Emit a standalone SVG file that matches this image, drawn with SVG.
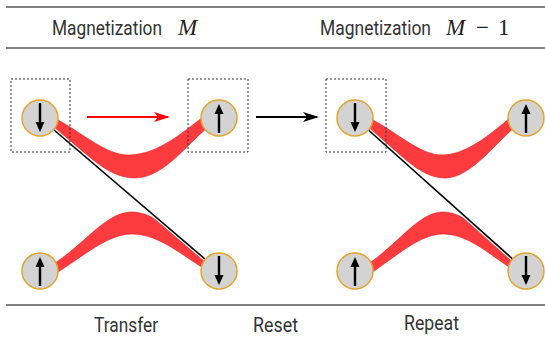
<svg xmlns="http://www.w3.org/2000/svg" width="545" height="337" viewBox="0 0 545 337">
  <defs>
    <style>
      .rule { stroke: #555; stroke-width: 1.5; fill: none; }
      .label { font-family: Roboto, "Noto Sans", sans-serif; font-size: 20px; fill: #333; }
      .math { font-family: "Liberation Serif", "DejaVu Serif", serif; font-style: italic; font-size: 23px; fill: #222; }
      .mathup { font-family: "Liberation Serif", "DejaVu Serif", serif; font-size: 23px; fill: #222; }
      .band { fill: #fc3b3f; stroke: #f52024; stroke-width: 0.6; }
      .site { fill: #d3d3d3; stroke: #e2a52e; stroke-width: 1.5; }
      .spin { stroke: #000; stroke-width: 2.4; fill: none; }
      .head { fill: #000; }
      .box { fill: none; stroke: #333; stroke-width: 1; stroke-dasharray: 2 2; }
      .link { stroke: #000; stroke-width: 1.6; fill: none; }
      .casing { stroke: #fff; stroke-width: 4; fill: none; }
    </style>
    <marker id="tipRed" viewBox="0 0 16 10" refX="14" refY="5" markerWidth="16" markerHeight="10" markerUnits="userSpaceOnUse" orient="auto">
      <path d="M0,0 L16,5 L0,10 L4,5 Z" fill="#f00"/>
    </marker>
    <marker id="tipBlack" viewBox="0 0 16 10" refX="14" refY="5" markerWidth="16" markerHeight="10" markerUnits="userSpaceOnUse" orient="auto">
      <path d="M0,0 L16,5 L0,10 L4,5 Z" fill="#000"/>
    </marker>
    <g id="spinDown">
      <line class="spin" x1="0" y1="-15" x2="0" y2="6"/>
      <path class="head" d="M-4.5,4 L4.5,4 L0,14 Z"/>
    </g>
    <g id="spinUp">
      <line class="spin" x1="0" y1="15" x2="0" y2="-6"/>
      <path class="head" d="M-4.5,-4 L4.5,-4 L0,-14 Z"/>
    </g>
  </defs>

  <!-- table rules -->
  <line class="rule" x1="6" y1="7" x2="545" y2="7"/>
  <line class="rule" x1="6" y1="48" x2="545" y2="48"/>
  <line class="rule" x1="6" y1="305" x2="545" y2="305"/>

  <!-- column headings -->
  <text class="label" x="52" y="35" textLength="110" lengthAdjust="spacingAndGlyphs">Magnetization</text>
  <text class="math" x="178" y="35">M</text>
  <text class="label" x="320" y="35" textLength="111" lengthAdjust="spacingAndGlyphs">Magnetization</text>
  <text class="math" x="446" y="35">M</text>
  <text class="mathup" x="476" y="35">−</text>
  <text class="mathup" x="498" y="35">1</text>

  <!-- coupling bands and links -->
  <g id="connectors">
    <path class="band" d="M52,117 C80,130 105,156 130,155 C160,154 185,130 210,112 L212,124 C190,140 165,178 135,178 C105,178 85,150 50,126 Z"/>
    <path class="band" d="M50,266 C85,245 105,212 132,212 C160,212 185,245 212,262 L210,272 C185,258 160,234 132,234 C108,234 85,255 52,276 Z"/>
    <path class="band" d="M367,117 C395,130 420,156 443,155 C470,154 495,130 517,112 L519,124 C497,140 472,178 445,178 C418,178 398,150 365,126 Z"/>
    <path class="band" d="M365,266 C398,245 418,212 443,212 C470,212 493,245 519,262 L517,272 C493,258 470,234 443,234 C420,234 398,255 367,276 Z"/>
    <line class="casing" x1="40" y1="118" x2="219" y2="271"/>
    <line class="link" x1="40" y1="118" x2="219" y2="271"/>
    <line class="casing" x1="355" y1="118" x2="526" y2="271"/>
    <line class="link" x1="355" y1="118" x2="526" y2="271"/>
    <line x1="87" y1="117" x2="168" y2="117" stroke="#f00" stroke-width="1.8" marker-end="url(#tipRed)"/>
    <line x1="256" y1="117" x2="317" y2="117" stroke="#000" stroke-width="1.8" marker-end="url(#tipBlack)"/>
  </g>

  <!-- selection boxes -->
  <rect class="box" x="11" y="79" width="59" height="73"/>
  <rect class="box" x="188" y="79" width="60" height="73"/>
  <rect class="box" x="326" y="79" width="60" height="73"/>

  <!-- sites -->
  <g id="site-a1"><circle class="site" cx="40" cy="118" r="18"/><use href="#spinDown" x="40" y="118"/></g>
  <g id="site-b1"><circle class="site" cx="219" cy="118" r="18"/><use href="#spinUp" x="219" y="118"/></g>
  <g id="site-c1"><circle class="site" cx="40" cy="271" r="18"/><use href="#spinUp" x="40" y="271"/></g>
  <g id="site-d1"><circle class="site" cx="219" cy="271" r="18"/><use href="#spinDown" x="219" y="271"/></g>
  <g id="site-a2"><circle class="site" cx="355" cy="118" r="18"/><use href="#spinDown" x="355" y="118"/></g>
  <g id="site-b2"><circle class="site" cx="526" cy="118" r="18"/><use href="#spinUp" x="526" y="118"/></g>
  <g id="site-c2"><circle class="site" cx="355" cy="271" r="18"/><use href="#spinUp" x="355" y="271"/></g>
  <g id="site-d2"><circle class="site" cx="526" cy="271" r="18"/><use href="#spinDown" x="526" y="271"/></g>

  <!-- step labels -->
  <text class="label" x="94" y="332" textLength="64" lengthAdjust="spacingAndGlyphs">Transfer</text>
  <text class="label" x="253" y="332" textLength="45" lengthAdjust="spacingAndGlyphs">Reset</text>
  <text class="label" x="404" y="330" textLength="55" lengthAdjust="spacingAndGlyphs">Repeat</text>
</svg>
